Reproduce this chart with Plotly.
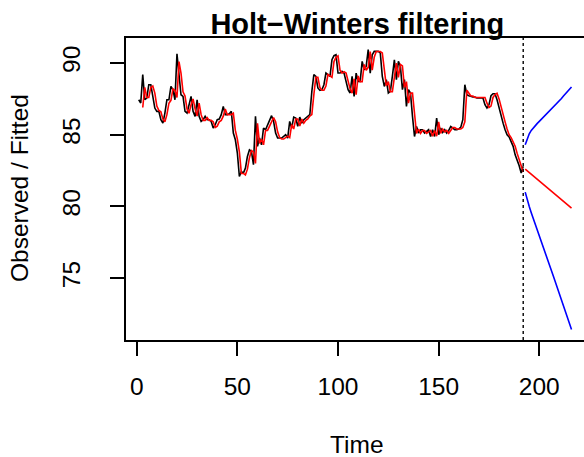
import plotly.graph_objects as go

observed = [87.44, 87.21, 89.19, 87.44, 87.56, 88.49, 88.49, 87.79, 86.86, 86.63,
            86.63, 86.05, 85.81, 86.51, 87.44, 87.44, 88.37, 88.14, 87.44, 90.65,
            89.07, 87.79, 87.67, 86.63, 86.51, 87.21, 87.67, 86.63, 86.28, 87.44,
            86.28, 85.93, 86.05, 86.28, 86.05, 86.05, 85.93, 85.47, 85.70, 86.05,
            86.09, 86.40, 86.98, 86.40, 86.40, 86.47, 86.63, 85.12, 84.65, 83.72,
            82.09, 82.44, 82.33, 82.67, 83.49, 83.95, 83.84, 82.91, 86.28, 84.19,
            84.77, 84.30, 85.47, 85.35, 85.70, 85.93, 86.33, 85.93, 85.12, 84.77,
            84.77, 84.77, 84.88, 85.00, 84.77, 85.93, 85.47, 86.23, 86.16, 85.58,
            86.23, 85.81, 86.05, 86.16, 86.33, 86.40, 88.02, 89.19, 89.07, 88.26,
            88.09, 88.14, 88.49, 89.30, 89.19, 89.07, 90.23, 90.51, 90.58, 89.30,
            89.30, 89.42, 89.30, 88.60, 88.14, 87.91, 89.07, 87.67, 89.30, 88.72,
            88.72, 90.12, 89.53, 89.77, 90.93, 89.30, 90.58, 90.81, 90.81, 90.81,
            90.70, 89.07, 88.37, 88.84, 87.91, 88.02, 89.07, 90.23, 88.84, 90.12,
            89.77, 88.14, 88.84, 86.98, 88.14, 87.91, 86.28, 84.88, 85.58, 85.12,
            85.35, 85.35, 85.12, 85.23, 85.35, 84.88, 85.35, 84.88, 86.16, 85.00,
            85.47, 85.16, 85.35, 85.12, 85.30, 85.58, 85.47, 85.35, 85.35, 85.40,
            85.53, 86.05, 88.49, 87.79, 87.72, 87.67, 87.63, 87.63, 87.56, 87.56,
            87.56, 87.56, 87.09, 86.86, 87.09, 87.72, 87.86, 87.86, 87.44, 86.86,
            86.28, 85.81, 85.35, 85.00, 84.84, 84.47, 84.19, 83.60, 83.26, 82.84,
            82.33, 82.80]
time_obs = list(range(1, len(observed) + 1))

fitted = [86.9, 88.3, 87.6, 87.6, 88.3, 88.4, 87.9, 87.0, 86.7, 86.6,
          86.1, 85.9, 86.4, 87.2, 87.4, 88.2, 88.1, 87.6, 90.1, 89.3,
          88.0, 87.7, 86.8, 86.5, 87.1, 87.5, 86.8, 86.3, 87.2, 86.4,
          86.0, 86.0, 86.2, 86.0, 86.0, 85.9, 85.5, 85.6, 85.9, 86.0,
          86.3, 86.8, 86.4, 86.4, 86.4, 86.5, 85.3, 84.7, 83.8, 82.3,
          82.3, 82.2, 82.6, 83.4, 83.9, 83.8, 83.0, 85.8, 84.4, 84.7,
          84.3, 85.3, 85.3, 85.6, 85.9, 86.2, 85.9, 85.2, 84.8, 84.7,
          84.7, 84.8, 84.9, 84.8, 85.7, 85.4, 86.1, 86.1, 85.6, 86.1,
          85.8, 86.0, 86.1, 86.3, 86.4, 87.8, 89.0, 89.0, 88.3, 88.1,
          88.1, 88.4, 89.2, 89.1, 89.0, 90.1, 90.4, 90.5, 89.5, 89.3,
          89.4, 89.3, 88.7, 88.2, 87.9, 88.9, 87.8, 89.1, 88.7, 88.7,
          89.9, 89.5, 89.7, 90.8, 89.5, 90.4, 90.8, 90.8, 90.8, 90.7,
          89.3, 88.4, 88.7, 88.0, 88.0, 88.9, 90.0, 89.0, 89.9, 89.8,
          88.3, 88.7, 87.2, 87.9, 87.9, 86.5, 85.1, 85.4, 85.1, 85.3,
          85.3, 85.1, 85.2, 85.3, 84.9, 85.3, 84.9, 85.9, 85.1, 85.4,
          85.2, 85.3, 85.1, 85.3, 85.5, 85.5, 85.4, 85.4, 85.4, 85.5,
          85.9, 88.1, 87.9, 87.7, 87.7, 87.6, 87.6, 87.6, 87.6, 87.6,
          87.6, 87.2, 86.9, 87.0, 87.6, 87.8, 87.9, 87.5, 86.9, 86.4,
          85.9, 85.4, 85.0, 84.8, 84.5, 84.2, 83.7, 83.3, 82.9, 82.4]
time_fit = list(range(3, 3 + len(fitted)))

pred_fit = [82.60, 82.48, 82.36, 82.25, 82.13, 82.01, 81.89, 81.77, 81.65, 81.54,
            81.42, 81.30, 81.18, 81.06, 80.95, 80.83, 80.71, 80.59, 80.47, 80.35,
            80.24, 80.12, 80.00, 79.88]
pred_upr = [84.30, 84.77, 85.07, 85.30, 85.49, 85.65, 85.79, 85.93, 86.07, 86.21,
            86.35, 86.49, 86.63, 86.77, 86.93, 87.07, 87.21, 87.37, 87.53, 87.70,
            87.86, 88.00, 88.16, 88.33]
pred_lwr = [81.00, 80.45, 80.00, 79.57, 79.15, 78.74, 78.33, 77.93, 77.53, 77.13,
            76.73, 76.33, 75.93, 75.53, 75.13, 74.73, 74.33, 73.93, 73.53, 73.12,
            72.70, 72.28, 71.86, 71.43]
time_pred = list(range(193, 193 + len(pred_fit)))
obs_end = 192

x_ticks = [0, 50, 100, 150, 200]
y_ticks = [75, 80, 85, 90]

FONT = "Liberation Sans, Arial, Helvetica, sans-serif"
LW = 1.6

fig = go.Figure()
fig.add_trace(go.Scatter(x=time_obs, y=observed, mode="lines",
                         line=dict(color="black", width=LW)))
fig.add_trace(go.Scatter(x=time_fit, y=fitted, mode="lines",
                         line=dict(color="red", width=LW)))
fig.add_trace(go.Scatter(x=time_pred, y=pred_fit, mode="lines",
                         line=dict(color="red", width=LW)))
fig.add_trace(go.Scatter(x=time_pred, y=pred_upr, mode="lines",
                         line=dict(color="blue", width=LW)))
fig.add_trace(go.Scatter(x=time_pred, y=pred_lwr, mode="lines",
                         line=dict(color="blue", width=LW)))

fig.add_shape(type="line", x0=obs_end, x1=obs_end, y0=0, y1=1,
              xref="x", yref="paper",
              line=dict(color="black", width=1.4, dash="dot"))

L, R, T, B = 126, 0, 38, 117
W, H = 584, 457
pw = W - L - R
ph = H - T - B

fig.update_layout(
    width=W, height=H,
    margin=dict(l=L, r=R, t=T, b=B, pad=0),
    paper_bgcolor="white", plot_bgcolor="white",
    showlegend=False,
    font=dict(family=FONT, color="black", size=24.5),
    xaxis=dict(range=[-5.32, 222.2], tickvals=x_ticks, ticktext=[str(v) for v in x_ticks],
               showgrid=False, zeroline=False, showline=True, mirror=True,
               linecolor="black", linewidth=1.5, ticks="outside", ticklen=14,
               tickwidth=1.5, tickcolor="black", ticklabelstandoff=10,
               tickfont=dict(size=24.5)),
    yaxis=dict(range=[70.69, 91.745], tickvals=y_ticks, ticktext=[str(v) for v in y_ticks],
               showgrid=False, zeroline=False, showline=True, mirror=False,
               linecolor="black", linewidth=1.5, ticks="outside", ticklen=14,
               tickwidth=1.5, tickcolor="black", tickangle=-90, ticklabelstandoff=20,
               tickfont=dict(size=24.5)),
    title=dict(text="<b>Holt\u2212Winters filtering</b>", x=357.3 / W, xanchor="center",
               y=1 - 23.8 / H, yanchor="middle", xref="container", yref="container",
               font=dict(size=29, family=FONT, color="black")),
)

fig.add_annotation(text="Time", x=(356.5 - L) / pw, y=(H - B - 444.5) / ph,
                   xref="paper", yref="paper", showarrow=False,
                   xanchor="center", yanchor="middle", font=dict(size=24.5))
fig.add_annotation(text="Observed / Fitted", x=(19.5 - L) / pw, y=(H - B - 188.5) / ph,
                   xref="paper", yref="paper", showarrow=False, textangle=-90,
                   xanchor="center", yanchor="middle", font=dict(size=24.5))

fig.write_html("out.html", config={"displayModeBar": False},
               post_script="document.body.style.margin='0';document.body.style.padding='0';")
